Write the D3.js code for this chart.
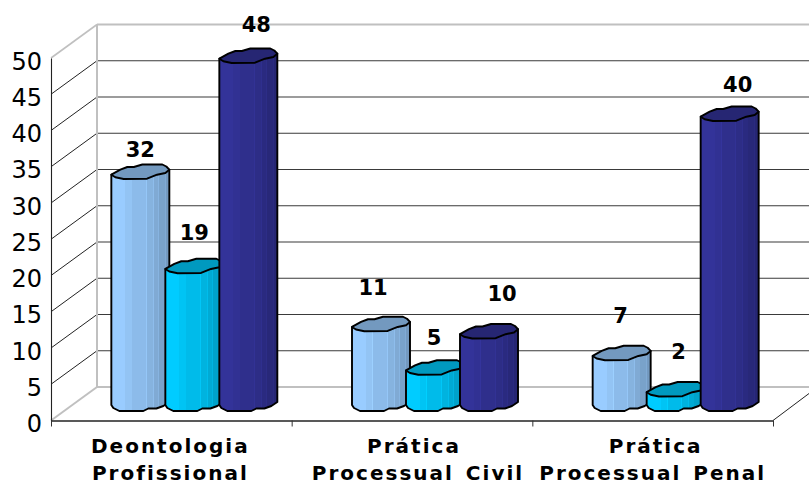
<!DOCTYPE html>
<html><head><meta charset="utf-8">
<script src="https://cdn.jsdelivr.net/npm/d3@7"></script>
<style>html,body{margin:0;padding:0;background:#fff;overflow:hidden}svg{display:block}text{font-family:"DejaVu Sans",sans-serif;fill:#000}</style>
</head><body><svg id="c" width="809" height="484"></svg>
<script>
const categories=[["Deontologia","Profissional"],["Prática","Processual Civil"],["Prática","Processual Penal"]];
const seriesA=[32,11,7];
const seriesB=[19,5,2];
const seriesC=[48,10,40];
const yTicks=[0,5,10,15,20,25,30,35,40,45,50];
const baseColors=["#99CCFF","#00CCFF","#333399"];
const darkColors=["#7399BF","#0099BF","#262673"];
const labelDx=[[0,-8,-1],[0,-1,3],[8,13,8]];
const labelDy=[[-14,-28,-29],[-25,-22,-29.5],[-23.5,-30,-21]];
const catDx=[[-1,-1],[2,6],[3,0]];

const W=809,H=484,x0=51,x1=773,yB=420.5,yT=58,backX=46,backY=33.5,midY=17.5,midX=23;
const svg=d3.select("#c");
const x=d3.scaleBand().domain(d3.range(categories.length)).range([x0,x1]);
const y=d3.scaleLinear().domain([0,50]).range([yB,yT]);
const series=[seriesA,seriesB,seriesC];
const sOff=d3.scaleLinear().domain([0,1]).range([-83,-29]);
const barW=58;

// gradients: vertical facets with faint light seams between them
const bands=[0,.24,.35,.6,.72,.81,.92,1];
const defs=svg.append("defs");
baseColors.forEach((c,i)=>{
  const g=defs.append("linearGradient").attr("id","g"+i);
  const ip=d3.interpolateRgb(c,darkColors[i]);
  d3.range(bands.length-1).forEach(k=>{
    const col=ip(k/(bands.length-2));
    const seam=k>=2?0.014:0;
    const sc=seam?d3.color(col).brighter(0.3).formatRgb():col;
    g.append("stop").attr("offset",bands[k]).attr("stop-color",sc);
    g.append("stop").attr("offset",bands[k]+seam).attr("stop-color",sc);
    g.append("stop").attr("offset",bands[k]+seam).attr("stop-color",col);
    g.append("stop").attr("offset",bands[k+1]).attr("stop-color",col);
  });
});

// walls
const grid=svg.append("g");
yTicks.slice(1,-1).forEach(t=>{
  grid.append("line").attr("x1",x0+backX).attr("x2",W).attr("y1",y(t)-backY).attr("y2",y(t)-backY).attr("stroke","#3a3a3a").attr("stroke-width",1.1);
});
yTicks.slice(1).forEach(t=>{
  grid.append("line").attr("x1",x0).attr("x2",x0+backX).attr("y1",y(t)).attr("y2",y(t)-backY)
    .attr("stroke",t===50?"#c0c0c0":"#222").attr("stroke-width",t===50?1.6:1);
});
const frame="#c0c0c0";
[[x0+backX,y(50)-backY,W,y(50)-backY],[x0+backX,y(0)-backY,W,y(0)-backY],[x0+backX,y(50)-backY,x0+backX,y(0)-backY],[x0,y(0),x0+backX,y(0)-backY]]
 .forEach(l=>grid.append("line").attr("x1",l[0]).attr("y1",l[1]).attr("x2",l[2]).attr("y2",l[3]).attr("stroke",frame).attr("stroke-width",2));
grid.append("line").attr("x1",x1).attr("y1",y(0)).attr("x2",W).attr("y2",y(0)-27).attr("stroke","#222").attr("stroke-width",1);

// axes
const ax=svg.append("g").attr("transform",`translate(${x0},0)`).call(d3.axisLeft(y).tickValues(yTicks).tickSize(0).tickPadding(9).tickFormat(d3.format("d")));
ax.select(".domain").attr("stroke","#222").attr("stroke-width",1.1);
ax.selectAll("text").attr("font-size",24).attr("dy","0.46em").style("font-family",'"DejaVu Sans"').attr("fill","#000");
const bx=svg.append("g").attr("transform",`translate(0,${yB})`).call(
  d3.axisBottom(d3.scaleLinear().domain([0,3]).range([x0,x1])).tickValues([0,1,2,3]).tickSize(6).tickSizeOuter(0).tickFormat(""));
bx.select(".domain").attr("stroke","#222").attr("stroke-width",1.4);
bx.selectAll("line").attr("stroke","#333").attr("stroke-width",1);

// bar outline shapes relative to bar width and centre
const topShape=[[0,3.7],[9,-1.3],[16,-4],[22.5,-4],[31,-6.5],[51,-6.5],[55,-4.5],[58,-1.3],[54,2],[45.7,3.7],[35.7,7.7],[12.3,8],[4,6.3]];
const botShape=[[0,2],[2,5],[8,8],[32,8],[37,5.5],[45,5.5],[52,3],[58,-1]];
const line=d3.line().curve(d3.curveLinear);
const baseC=y(0)-midY;
const bars=svg.append("g");
series.forEach((vals,s)=>{
  vals.forEach((v,c)=>{
    const bx0=x(c)+x.bandwidth()/2+midX+sOff(s);
    const yc=y(v)-midY;
    const g=bars.append("g");
    const body=[[bx0,yc+3.7]].concat(botShape.map(p=>[bx0+p[0],baseC+p[1]]),[[bx0+barW,yc-1.3]]);
    g.append("path").attr("d",line(body)+"Z").attr("fill",`url(#g${s})`).attr("stroke","#000").attr("stroke-width",1.9).attr("stroke-linejoin","round");
    g.append("path").attr("d",line(topShape.map(p=>[bx0+p[0],yc+p[1]]))+"Z").attr("fill",darkColors[s]).attr("stroke","#000").attr("stroke-width",1.9).attr("stroke-linejoin","round");
  });
});

// value labels
series.forEach((vals,s)=>{
  vals.forEach((v,c)=>{
    const cx=x(c)+x.bandwidth()/2+midX+sOff(s)+barW/2+labelDx[s][c];
    svg.append("text").attr("x",cx).attr("y",y(v)-midY+labelDy[s][c]).attr("text-anchor","middle")
      .attr("font-size",21).attr("font-weight","bold").text(v);
  });
});

// category labels
categories.forEach((ls,c)=>{
  ls.forEach((t,i)=>{
    svg.append("text").attr("x",x(c)+x.bandwidth()/2+catDx[c][i]).attr("y",453+i*27).attr("text-anchor","middle")
      .attr("font-size",20).attr("font-weight","bold").attr("letter-spacing",2).attr("word-spacing",3).text(t);
  });
});
</script></body></html>
